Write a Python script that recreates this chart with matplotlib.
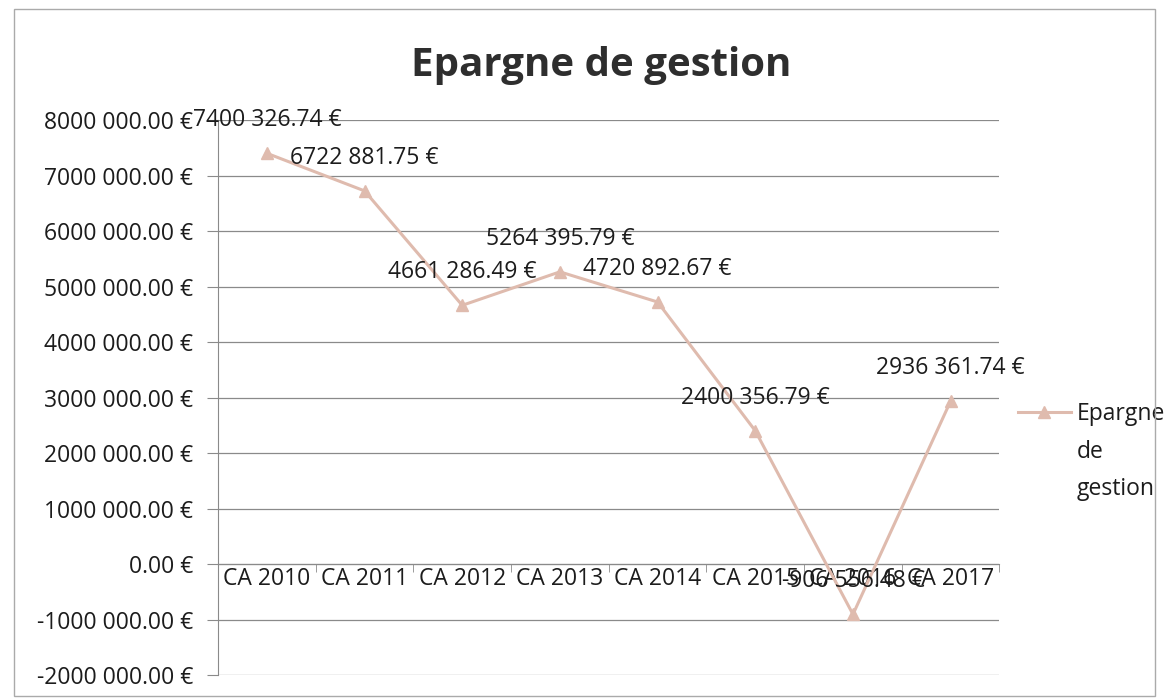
import matplotlib.pyplot as plt
from matplotlib.ticker import FuncFormatter, FixedLocator

# Epargne de gestion par compte administratif
categories = ['CA 2010', 'CA 2011', 'CA 2012', 'CA 2013', 'CA 2014', 'CA 2015', 'CA 2016', 'CA 2017']
epargne = [7400326.74, 6722881.75, 4661286.49, 5264395.79, 4720892.67, 2400356.79, -906556.48, 2936361.74]
y_ticks = [-2000000, -1000000, 0, 1000000, 2000000, 3000000, 4000000, 5000000, 6000000, 7000000, 8000000]
series_name = ['Epargne', 'de', 'gestion']

line_color = '#DFBBAE'
grid_color = '#8a8a8a'
text_color = '#1c1c1c'


def fmt_euro(v, pos=None):
    # format Excel "# ##0.00 €" tel qu'affiché : seul le dernier groupe est séparé
    sign = '-' if v < 0 else ''
    cents = round(abs(v) * 100)
    n, c = divmod(cents, 100)
    if n >= 1000:
        s = f'{n // 1000} {n % 1000:03d}'
    else:
        s = f'{n}'
    return f'{sign}{s}.{c:02d} €'


plt.rcParams['font.family'] = ['Open Sans', 'DejaVu Sans']

fig = plt.figure(figsize=(11.69, 6.99), dpi=100)
ax = fig.add_axes([0.1865, 0.0343, 0.6685, 0.794])

x = list(range(len(categories)))
ax.plot(x, epargne, color=line_color, linewidth=2.2, marker='^', markersize=8,
        label=series_name[0], zorder=3)

for xi, v in zip(x, epargne):
    ax.annotate(fmt_euro(v), (xi, v), xytext=(0, 33), textcoords='offset pixels',
                ha='center', va='center', fontsize=16.5, color=text_color, zorder=4)

ax.set_xlim(-0.5, len(categories) - 0.5)
ax.set_ylim(-2000000, 8000000)
ax.yaxis.set_major_locator(FixedLocator(y_ticks))
ax.yaxis.set_major_formatter(FuncFormatter(fmt_euro))
ax.grid(axis='y', color=grid_color, linewidth=0.9)
ax.set_axisbelow(True)

ax.set_xticks(x)
ax.set_xticklabels(categories)
ax.set_xticks([i - 0.5 for i in range(len(categories) + 1)], minor=True)
ax.tick_params(axis='x', which='major', length=0, pad=2, labelsize=16.5, labelcolor=text_color)
ax.tick_params(axis='x', which='minor', length=6, color=grid_color, direction='out')
ax.tick_params(axis='y', length=8, color=grid_color, labelsize=16.5, labelcolor=text_color, pad=10)

ax.spines['bottom'].set_position(('data', 0))
ax.spines['bottom'].set_color(grid_color)
ax.spines['left'].set_color(grid_color)
ax.spines['top'].set_visible(False)
ax.spines['right'].set_visible(False)

fig.text(0.514, 0.906, 'Epargne de gestion', ha='center', va='center',
         fontsize=29, fontweight='bold', color='#2e2e2e')

# légende : symbole aligné sur la première ligne, comme dans Excel
leg = ax.legend(loc='center left', bbox_to_anchor=(1.009, 0.471), frameon=False,
                fontsize=16.5, handlelength=2.3, handletextpad=0.25, borderpad=0)
leg.get_texts()[0].set_color(text_color)
fig.canvas.draw()
bb = leg.get_texts()[0].get_window_extent().transformed(fig.transFigure.inverted())
fig.text(bb.x0, bb.y0 - 0.02, '\n'.join(series_name[1:]), ha='left', va='top',
         fontsize=16.5, color=text_color, linespacing=1.73)

# cadre du graphique
fig.patches.append(plt.Rectangle((0.012, 0.005), 0.976, 0.982, transform=fig.transFigure,
                                 fill=False, edgecolor='#aaaaaa', linewidth=1))

fig.savefig('out.png', dpi=100)
